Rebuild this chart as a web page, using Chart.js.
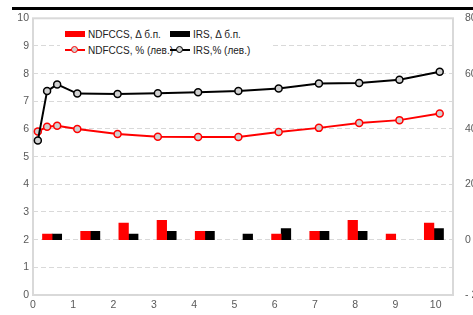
<!DOCTYPE html>
<html>
<head>
<meta charset="utf-8">
<script src="https://cdn.jsdelivr.net/npm/chart.js@4/dist/chart.umd.min.js"></script>
<style>
  html, body { margin: 0; padding: 0; background: #fff; }
  #wrap { position: relative; width: 473px; height: 315px; overflow: hidden; font-family: "Liberation Sans", Arial, sans-serif; }
  #rule { position: absolute; left: 12px; top: 7px; width: 461px; height: 3px; background: #000; }
  #legend { position: absolute; left: 60px; top: 27px; width: 212px; height: 32px; background: #fff; font-size: 10px; color: #222; }
  #legend .item { position: absolute; height: 14px; line-height: 14px; white-space: nowrap; }
  #legend .box { display: inline-block; width: 20px; height: 6px; vertical-align: middle; margin-right: 3px; margin-top: -2px; }
  #legend .ln { display: inline-block; position: relative; width: 20px; height: 14px; vertical-align: middle; margin-right: 3px; margin-top: -2px; }
  #legend .ln i { position: absolute; left: 0; top: 6px; width: 20px; height: 2px; }
  #legend .ln b { position: absolute; left: 6px; top: 3px; width: 5px; height: 5px; border-radius: 50%; background: #d0d0d0; border: 1.5px solid; }
</style>
</head>
<body>
<div id="wrap">
  <canvas id="myChart" width="473" height="315"></canvas>
  <div id="rule"></div>
  <div id="legend">
    <div class="item" style="left:5px;top:1px"><span class="box" style="background:#ff0000"></span>NDFCCS, Δ б.п.</div>
    <div class="item" style="left:110px;top:1px"><span class="box" style="background:#000"></span>IRS, Δ б.п.</div>
    <div class="item" style="left:5px;top:17px"><span class="ln"><i style="background:#ff0000"></i><b style="border-color:#ff0000"></b></span>NDFCCS, % (лев.)</div>
    <div class="item" style="left:110px;top:17px"><span class="ln"><i style="background:#000"></i><b style="border-color:#000"></b></span>IRS,% (лев.)</div>
  </div>
</div>
<script>
// бары (правая ось, б.п.), null - столбика нет
const barGroups = ["1", "2", "3", "4", "5", "6", "7", "8", "9", "10", "11"];
const ndfDelta = [2, 3, 6, 7, 3, null, 2, 3, 7, 2, 6];
const irsDelta = [2, 3, 2, 3, 3, 2, 4, 3, 3, null, 4];

// линии (левая ось, %), x - срок в годах
const tenors = [0.12, 0.35, 0.6, 1.1, 2.1, 3.1, 4.1, 5.1, 6.1, 7.1, 8.1, 9.1, 10.1];
const ndfRate = [5.91, 6.08, 6.12, 6.0, 5.82, 5.72, 5.71, 5.71, 5.89, 6.04, 6.22, 6.32, 6.56];
const irsRate = [5.58, 7.37, 7.61, 7.28, 7.26, 7.29, 7.33, 7.37, 7.46, 7.64, 7.66, 7.78, 8.07];

const toPoints = (ys) => tenors.map((x, i) => ({ x: x, y: ys[i] }));

const tickFont = { family: "Liberation Sans", size: 10.5 };
const tickColor = "#595959";

// рамка области графика
const frame = {
  id: "frame",
  beforeDatasetsDraw(chart) {
    const { ctx, chartArea: a } = chart;
    ctx.save();
    ctx.strokeStyle = "#d9d9d9";
    ctx.lineWidth = 2;
    ctx.strokeRect(a.left, a.top, a.right - a.left, a.bottom - a.top);
    ctx.restore();
  },
};

Chart.defaults.font.family = "Liberation Sans";

new Chart(document.getElementById("myChart"), {
  type: "line",
  data: {
    labels: barGroups,
    datasets: [
      {
        type: "line",
        label: "IRS,% (лев.)",
        data: toPoints(irsRate),
        borderColor: "#000000",
        borderWidth: 2,
        pointRadius: 3.5,
        pointBorderWidth: 1.5,
        pointBackgroundColor: "#d0d0d0",
        pointBorderColor: "#000000",
        xAxisID: "x",
        yAxisID: "y",
        order: 0,
      },
      {
        type: "line",
        label: "NDFCCS, % (лев.)",
        data: toPoints(ndfRate),
        borderColor: "#ff0000",
        borderWidth: 2,
        pointRadius: 3.5,
        pointBorderWidth: 1.5,
        pointBackgroundColor: "#d0d0d0",
        pointBorderColor: "#ff0000",
        xAxisID: "x",
        yAxisID: "y",
        order: 1,
      },
      {
        type: "bar",
        label: "NDFCCS, Δ б.п.",
        data: ndfDelta,
        backgroundColor: "#ff0000",
        xAxisID: "xb",
        yAxisID: "y2",
        barThickness: 9.6,
        skipNull: false,
        order: 2,
      },
      {
        type: "bar",
        label: "IRS, Δ б.п.",
        data: irsDelta,
        backgroundColor: "#000000",
        xAxisID: "xb",
        yAxisID: "y2",
        barThickness: 9.6,
        skipNull: false,
        order: 2,
      },
    ],
  },
  options: {
    responsive: false,
    animation: false,
    devicePixelRatio: 1,
    layout: { padding: { top: 17, left: 0, right: 0, bottom: 0 } },
    plugins: { legend: { display: false }, tooltip: { enabled: false } },
    scales: {
      x: {
        type: "linear",
        position: "bottom",
        offset: false,
        min: 0,
        max: 10.43,
        ticks: { stepSize: 1, includeBounds: false, color: tickColor, font: tickFont, padding: 4, maxRotation: 0 },
        grid: { display: false, drawTicks: false },
        border: { display: false },
        afterFit: (s) => { s.height = 20; },
      },
      xb: {
        type: "category",
        display: false,
        offset: true,
        grid: { offset: true },
      },
      y: {
        type: "linear",
        position: "left",
        min: 0,
        max: 10,
        ticks: { stepSize: 1, color: tickColor, font: tickFont, padding: 4 },
        grid: { color: "#d9d9d9", lineWidth: 1, drawTicks: false },
        border: { display: false, dash: [5, 3] },
        afterFit: (s) => { s.width = 33; },
      },
      y2: {
        type: "linear",
        position: "right",
        min: -20,
        max: 80,
        ticks: {
          stepSize: 20,
          color: tickColor,
          font: tickFont,
          padding: 12,
          callback: (v) => (v < 0 ? "- " + Math.abs(v) : String(v)),
        },
        grid: { display: false, drawTicks: false },
        border: { display: false },
        afterFit: (s) => { s.width = 20; },
      },
    },
  },
  plugins: [frame],
});
</script>
</body>
</html>
